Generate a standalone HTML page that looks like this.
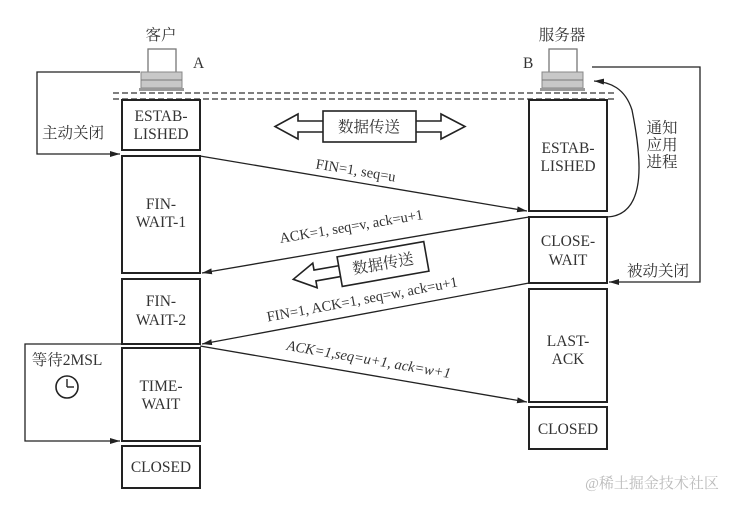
<!DOCTYPE html>
<html><head><meta charset="utf-8"><style>
html,body{margin:0;padding:0;background:#fff;}
svg{display:block;}
text{font-family:"Liberation Serif","Noto Serif CJK SC",serif;fill:#333;}
.cj{font-family:"Liberation Serif","Noto Serif CJK SC","Noto Sans CJK SC",serif;}
</style></head><body>
<svg width="738" height="506" viewBox="0 0 738 506" xmlns="http://www.w3.org/2000/svg">
<defs>
<marker id="ah" markerWidth="10" markerHeight="6" refX="10" refY="3" orient="auto" markerUnits="userSpaceOnUse">
<path d="M0,0 L10,3 L0,6 Z" fill="#222"/></marker>
</defs>
<g stroke="#333" fill="none">
<line x1="113" y1="93" x2="616" y2="93" stroke-dasharray="6,3" stroke-width="1.3"/>
<line x1="113" y1="99" x2="616" y2="99" stroke-dasharray="6,3" stroke-width="1.3"/>
<g stroke-width="2" stroke="#222">
<rect x="122" y="100" width="78" height="50"/>
<rect x="122" y="156" width="78" height="117"/>
<rect x="122" y="279" width="78" height="65"/>
<rect x="122" y="348" width="78" height="93"/>
<rect x="122" y="446" width="78" height="42"/>
<rect x="529" y="100" width="78" height="111"/>
<rect x="529" y="217" width="78" height="66"/>
<rect x="529" y="289" width="78" height="113"/>
<rect x="529" y="407" width="78" height="42"/>
</g>
<g stroke-width="1.3" stroke="#222">
<line x1="200" y1="156" x2="527" y2="211" marker-end="url(#ah)"/>
<line x1="529" y1="217" x2="202" y2="273" marker-end="url(#ah)"/>
<line x1="529" y1="283" x2="202" y2="344" marker-end="url(#ah)"/>
<line x1="200" y1="346" x2="527" y2="402" marker-end="url(#ah)"/>
<polyline points="140,72 37,72 37,154 120,154" marker-end="url(#ah)"/>
<polyline points="592,67 700,67 700,282 609,282" marker-end="url(#ah)"/>
<polyline points="200,344 25,344 25,441 120,441" marker-end="url(#ah)"/>
<path d="M607,217 C650,215 640,150 632,110 C625,88 610,82 594,81" marker-end="url(#ah)"/>
</g>
<g stroke-width="1.6" stroke="#222">
<rect x="323" y="111" width="93" height="31" fill="#fff"/>
<path d="M323,121 L298,121 L298,114 L275,126.5 L298,139 L298,132 L323,132"/>
<path d="M416,121 L441,121 L441,114 L465,126.5 L441,139 L441,132 L416,132"/>
<g transform="rotate(-10 383 264)">
<rect x="339" y="249" width="88" height="30" fill="#fff"/>
<path d="M339,258 L314,258 L314,251 L292,263.5 L314,276 L314,269 L339,269"/>
</g>
</g>
<circle cx="67" cy="387" r="11" stroke="#222" stroke-width="1.6"/>
<line x1="67" y1="387" x2="67" y2="379" stroke="#222" stroke-width="1.4"/>
<line x1="67" y1="387" x2="74" y2="387" stroke="#222" stroke-width="1.4"/>
</g>
<g>
<rect x="148" y="49" width="28" height="24" fill="#fff" stroke="#777" stroke-width="1.3"/>
<rect x="141" y="72" width="41" height="16" fill="#c8c8c8" stroke="#888"/>
<line x1="141" y1="80" x2="182" y2="80" stroke="#777"/>
<rect x="139" y="88" width="45" height="3" fill="#999"/>
<rect x="549" y="49" width="28" height="24" fill="#fff" stroke="#777" stroke-width="1.3"/>
<rect x="542" y="72" width="41" height="16" fill="#c8c8c8" stroke="#888"/>
<line x1="542" y1="80" x2="583" y2="80" stroke="#777"/>
<rect x="540" y="88" width="45" height="3" fill="#999"/>
</g>
<g font-size="15.5" text-anchor="middle">
<text x="161" y="40" class="cj">客户</text>
<text x="562" y="40" class="cj">服务器</text>
<text x="193" y="68" text-anchor="start">A</text>
<text x="523" y="68" text-anchor="start">B</text>
<text x="161" y="121">ESTAB-</text>
<text x="161" y="139">LISHED</text>
<text x="161" y="209">FIN-</text>
<text x="161" y="227">WAIT-1</text>
<text x="161" y="306">FIN-</text>
<text x="161" y="325">WAIT-2</text>
<text x="161" y="391">TIME-</text>
<text x="161" y="409">WAIT</text>
<text x="161" y="472">CLOSED</text>
<text x="568" y="153">ESTAB-</text>
<text x="568" y="171">LISHED</text>
<text x="568" y="246">CLOSE-</text>
<text x="568" y="265">WAIT</text>
<text x="568" y="346">LAST-</text>
<text x="568" y="364">ACK</text>
<text x="568" y="434">CLOSED</text>
<text x="369" y="132" class="cj">数据传送</text>
<text x="383" y="269" class="cj" transform="rotate(-10 383 264)">数据传送</text>
<text x="73" y="138" class="cj">主动关闭</text>
<text x="658" y="276" class="cj">被动关闭</text>
<text x="67" y="365" class="cj">等待2MSL</text>
<text x="662" y="133" class="cj">通知</text>
<text x="662" y="150" class="cj">应用</text>
<text x="662" y="167" class="cj">进程</text>
</g>
<g font-size="14.5" text-anchor="middle">
<text x="355" y="175" transform="rotate(9.5 355 175)">FIN=1, seq=u</text>
<text x="352" y="231" transform="rotate(-9.5 352 231)">ACK=1, seq=v, ack=u+1</text>
<text x="363" y="304" transform="rotate(-10.5 363 304)">FIN=1, ACK=1, seq=w, ack=u+1</text>
<text x="368" y="364" transform="rotate(9.8 368 364)" font-style="italic">ACK=1,seq=u+1, ack=w+1</text>
</g>
<text x="652" y="488" font-size="15" text-anchor="middle" style="fill:#bbb" class="cj">@稀土掘金技术社区</text>
</svg>
</body></html>
